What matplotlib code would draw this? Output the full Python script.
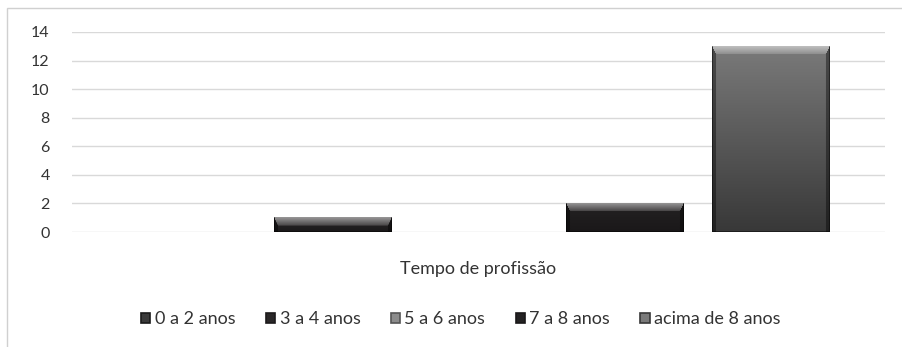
import matplotlib
matplotlib.use("Agg")
from matplotlib import pyplot as plt
from matplotlib.patches import Rectangle, Patch
import numpy as np

# dados do gráfico
categoria = "Tempo de profissão"
series = ["0 a 2 anos", "3 a 4 anos", "5 a 6 anos", "7 a 8 anos", "acima de 8 anos"]
valores = [0, 1, 0, 2, 13]
cores_topo = ["#3a3a3a", "#2a2728", "#8c8c8c", "#242223", "#7a7a7a"]
cores_base = ["#1a1a1a", "#1c1a1b", "#555555", "#1a1819", "#383838"]
yticks = [0, 2, 4, 6, 8, 10, 12, 14]

plt.rcParams['font.family'] = ['Lato', 'DejaVu Sans']

fig = plt.figure(figsize=(9.02, 3.47), dpi=100)
ax = fig.add_axes([0.0798, 0.3314, 0.9013, 0.5764])

# moldura do gráfico
fig.patches.append(Rectangle((7 / 902, -0.1), 1.2, 1.1 - 8 / 347, transform=fig.transFigure,
                             fill=False, edgecolor="#d0d0d0", lw=1.0))

passo = 0.1796
largura = 0.144
xs = (np.arange(len(series)) - 2) * passo


def rgb(c):
    return np.array(matplotlib.colors.to_rgb(c))


def textura(v, topo, base, larg_px, alt_px):
    # gradiente vertical com chanfro claro no topo e laterais escuras
    h = max(int(round(alt_px)), 2)
    w = max(int(round(larg_px)), 2)
    yy = np.linspace(0, 1, h)[:, None]          # 0 = topo
    t = rgb(topo)
    b = rgb(base)
    img = t[None, None, :] * (1 - yy[..., None]) + b[None, None, :] * yy[..., None]
    img = np.broadcast_to(img, (h, w, 3)).copy()
    py = np.arange(h)[:, None] * np.ones((1, w))
    px = np.ones((h, 1)) * np.arange(w)[None, :]
    dist_lado = np.minimum(px, w - 1 - px)
    bev = 8.0
    lado = 4.0
    topo_band = (py < bev) & (dist_lado >= py * lado / bev)
    f = np.clip(1 - py / bev, 0, 1)
    clara = np.where(topo_band, 0.15 + 0.35 * f, 0.0)
    img = img + (1 - img) * clara[..., None]
    esc = (dist_lado < lado) & ~topo_band
    img = np.where(esc[..., None], img * 0.6, img)
    # borda escura
    borda = (px < 1) | (px > w - 2) | (py > h - 2)
    img = np.where(borda[..., None], img * 0.55, img)
    return np.clip(img, 0, 1)


ppu_y = 200 / 14.0
ppu_x = 813.0
for x, v, ct, cb in zip(xs, valores, cores_topo, cores_base):
    if v <= 0:
        continue
    img = textura(v, ct, cb, largura * ppu_x, v * ppu_y)
    ax.imshow(img, extent=(x - largura / 2, x + largura / 2, 0, v), aspect="auto",
              interpolation="bilinear", zorder=3)

ax.set_xlim(-0.5, 0.5)
ax.set_ylim(0, 14)
ax.set_yticks(yticks)
ax.set_xticks([])
ax.yaxis.grid(True, color="#d9d9d9", lw=1.0, zorder=0)
ax.tick_params(axis="y", length=0, pad=16, labelsize=11.5, colors="#333333")
for s in ax.spines.values():
    s.set_visible(False)
ax.set_xlabel(categoria, fontsize=13, color="#333333", labelpad=21)

handles = [Patch(facecolor=ct, edgecolor=cb, lw=1.2) for ct, cb in zip(cores_topo, cores_base)]
leg = fig.legend(handles, series, loc="center", bbox_to_anchor=(0.511, 0.08), ncol=5,
                 frameon=False, fontsize=13, handlelength=0.5, handleheight=0.5,
                 handletextpad=0.26, columnspacing=1.68, labelcolor="#333333")

fig.savefig("out.png", dpi=100)
